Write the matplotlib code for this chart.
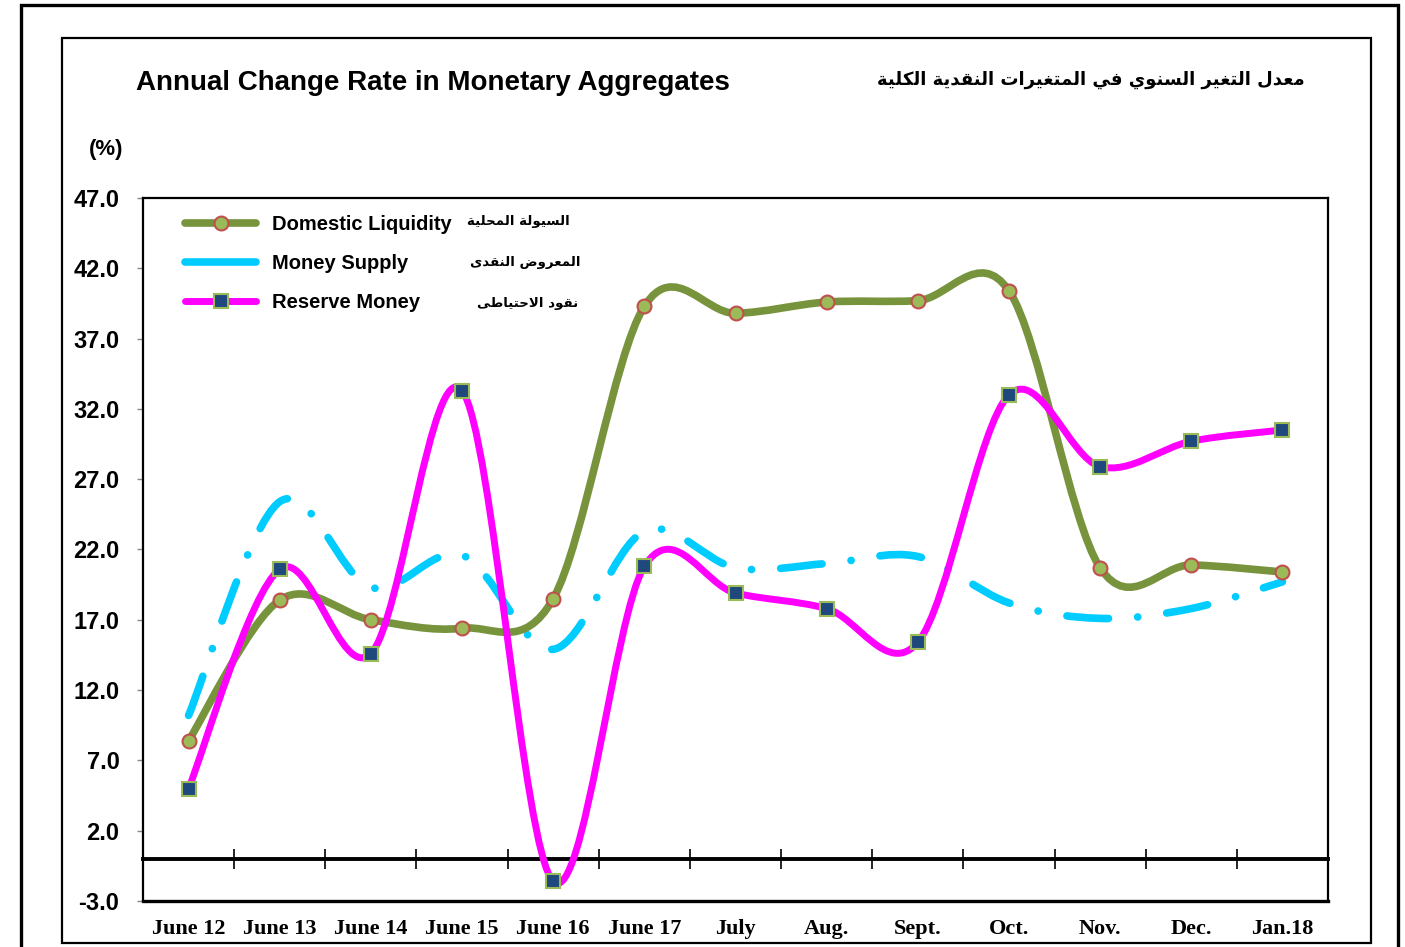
import numpy as np
import matplotlib
matplotlib.use("Agg")
import matplotlib.pyplot as plt
from matplotlib.path import Path
from matplotlib.patches import PathPatch, Rectangle
from matplotlib.lines import Line2D

# data
months = ["June 12", "June 13", "June 14", "June 15", "June 16", "June 17",
          "July", "Aug.", "Sept.", "Oct.", "Nov.", "Dec.", "Jan.18"]
domestic_liquidity = [8.4, 18.4, 17.0, 16.4, 18.5, 39.3, 38.8, 39.6, 39.7, 40.4, 20.7, 20.9, 20.4]
money_supply = [10.2, 25.4, 19.3, 21.6, 14.9, 23.3, 20.7, 21.0, 21.5, 18.2, 17.1, 17.8, 19.7]
reserve_money = [5.0, 20.6, 14.6, 33.3, -1.6, 20.8, 18.9, 17.8, 15.4, 33.0, 27.9, 29.7, 30.5]
yticks = [-3.0, 2.0, 7.0, 12.0, 17.0, 22.0, 27.0, 32.0, 37.0, 42.0, 47.0]

title_en = "Annual Change Rate in Monetary Aggregates"
title_ar = "معدل التغير السنوي في المتغيرات النقدية الكلية"
labels_en = ["Domestic Liquidity", "Money Supply", "Reserve Money"]
labels_ar = ["السيولة المحلية", "المعروض النقدى", "نقود الاحتياطى"]


# --- tiny arabic shaper (matplotlib has no text shaping) ---
_dual = {"ب": 0xFE8F, "ت": 0xFE95, "ث": 0xFE99, "ج": 0xFE9D, "ح": 0xFEA1, "خ": 0xFEA5,
         "س": 0xFEB1, "ش": 0xFEB5, "ص": 0xFEB9, "ض": 0xFEBD, "ط": 0xFEC1, "ظ": 0xFEC5,
         "ع": 0xFEC9, "غ": 0xFECD, "ف": 0xFED1, "ق": 0xFED5, "ك": 0xFED9, "ل": 0xFEDD,
         "م": 0xFEE1, "ن": 0xFEE5, "ه": 0xFEE9, "ي": 0xFEF1}
_right = {"ا": 0xFE8D, "ة": 0xFE93, "د": 0xFEA9, "ذ": 0xFEAB, "ر": 0xFEAD, "ز": 0xFEAF,
          "و": 0xFEED, "ى": 0xFEEF, "\uFEFB": 0xFEFB}


def shape_ar(txt):
    txt = txt.replace("لا", "\uFEFB")
    out = []
    for i, c in enumerate(txt):
        prev = txt[i - 1] if i > 0 else " "
        nxt = txt[i + 1] if i < len(txt) - 1 else " "
        jp = prev in _dual
        if c in _dual:
            jn = nxt in _dual or nxt in _right
            base = _dual[c]
            if jp and jn:
                out.append(chr(base + 3))
            elif jp:
                out.append(chr(base + 1))
            elif jn:
                out.append(chr(base + 2))
            else:
                out.append(chr(base))
        elif c in _right:
            out.append(chr(_right[c] + (1 if jp else 0)))
        else:
            out.append(c)
    return "".join(out[::-1])


def smooth_path(x, y):
    # excel-like smoothed line: cubic bezier through every point
    pts = np.column_stack([x, y]).astype(float)
    n = len(pts)
    verts = [pts[0]]
    codes = [Path.MOVETO]
    for i in range(n - 1):
        p0 = pts[i - 1] if i > 0 else pts[i]
        p1 = pts[i]
        p2 = pts[i + 1]
        p3 = pts[i + 2] if i + 2 < n else pts[i + 1]
        c1 = p1 + (p2 - p0) / 6.0
        c2 = p2 - (p3 - p1) / 6.0
        verts += [c1, c2, p2]
        codes += [Path.CURVE4] * 3
    return Path(verts, codes)


GREEN = "#77933C"
CYAN = "#00CCFF"
MAGENTA = "#FF00FF"
SANS = ["Liberation Sans", "DejaVu Sans"]

plt.rcParams["lines.scale_dashes"] = False
fig = plt.figure(figsize=(14.05, 9.47), dpi=100)

# frames around the chart
fig.patches.append(Rectangle((21 / 1405, -0.05), (1398 - 21) / 1405, 1.05 - 5 / 947,
                             transform=fig.transFigure, fill=False, lw=2.4, ec="black"))
fig.patches.append(Rectangle((62 / 1405, 1 - 943 / 947), (1371 - 62) / 1405, (943 - 38) / 947,
                             transform=fig.transFigure, fill=False, lw=1.6, ec="black"))

ax = fig.add_axes([143 / 1405, 1 - 901 / 947, (1328 - 143) / 1405, (901 - 198) / 947])
x = np.arange(len(months))

ax.add_patch(PathPatch(smooth_path(x, domestic_liquidity), fill=False, ec=GREEN, lw=5.5,
                       capstyle="round", joinstyle="round", zorder=3))
ax.add_patch(PathPatch(smooth_path(x, money_supply), fill=False, ec=CYAN, lw=5.5,
                       capstyle="round", linestyle=(0, (30, 21, 0.1, 21)), zorder=2))
ax.add_patch(PathPatch(smooth_path(x, reserve_money), fill=False, ec=MAGENTA, lw=5.0,
                       capstyle="round", joinstyle="round", zorder=4))
ax.plot(x, domestic_liquidity, ls="none", marker="o", ms=10, mfc="#9BBB59", mec="#C0504D",
        mew=1.5, zorder=5)
ax.plot(x, reserve_money, ls="none", marker="s", ms=9.5, mfc="#1F497D", mec="#9BBB59",
        mew=1.5, zorder=6)

ax.set_xlim(-0.5, len(months) - 0.5)
ax.set_ylim(-3, 47)
ax.set_yticks(yticks)
ax.set_yticklabels([f"{t:.1f}" for t in yticks], fontsize=17, fontweight="bold", family=SANS)
ax.tick_params(axis="y", length=4, width=1, color="#888888", pad=13)

# x axis sits on the zero line
ax.spines["bottom"].set_position(("data", 0))
ax.spines["bottom"].set_linewidth(2.8)
ax.set_xticks(x)
ax.set_xticklabels(months, fontsize=16, fontweight="bold", family="Liberation Serif")
ax.set_xticks(x[:-1] + 0.5, minor=True)
ax.tick_params(axis="x", which="major", length=0, pad=43)
ax.tick_params(axis="x", which="minor", direction="inout", length=14, width=1.2)
ax.axhline(-3, color="black", lw=2.4, clip_on=False, zorder=1)
for s in ["left", "right", "top"]:
    ax.spines[s].set_linewidth(1.6)

# legend
handles = [Line2D([], [], color=GREEN, lw=5.5, solid_capstyle="round", marker="o", ms=10,
                  mfc="#9BBB59", mec="#C0504D", mew=1.5),
           Line2D([], [], color=CYAN, lw=5.5, solid_capstyle="round"),
           Line2D([], [], color=MAGENTA, lw=5.0, solid_capstyle="round", marker="s", ms=9.5,
                  mfc="#1F497D", mec="#9BBB59", mew=1.5)]
ax.legend(handles, labels_en, loc="upper left", bbox_to_anchor=(0.0205, 1.002), frameon=False,
          handlelength=3.5, handletextpad=0.8, labelspacing=1.0,
          prop={"family": SANS, "weight": "bold", "size": 14.5})
ar_right = [570, 581, 578]
for i, lab in enumerate(labels_ar):
    ax.text((ar_right[i] - 143) / 1185, 1 - (222 + 40.5 * i - 198) / 703, shape_ar(lab),
            transform=ax.transAxes, ha="right", va="center", fontsize=9.6, fontweight="bold",
            family="DejaVu Sans")

fig.text(136 / 1405, 1 - 83 / 947, title_en, ha="left", va="center", fontsize=20,
         fontweight="bold", family=SANS)
fig.text(1305 / 1405, 1 - 80 / 947, shape_ar(title_ar), ha="right", va="center", fontsize=13,
         fontweight="bold", family="DejaVu Sans")
fig.text(106 / 1405, 1 - 150 / 947, "(%)", ha="center", va="center", fontsize=16,
         fontweight="bold", family=SANS)

fig.savefig("out.png", dpi=100)
